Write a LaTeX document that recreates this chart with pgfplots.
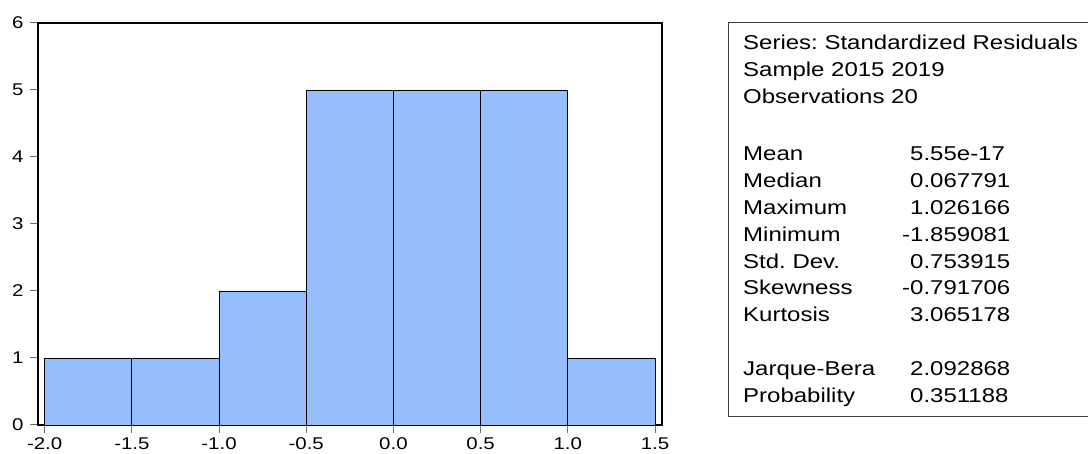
\documentclass[border=0pt]{standalone}
\usepackage{pgfplots}
\pgfplotsset{compat=1.18}
\usepackage{fontspec}
\setmainfont{Liberation Sans}[FakeStretch=1.2]
\frenchspacing
\definecolor{barblue}{RGB}{150,190,255}
\definecolor{tickgray}{RGB}{110,110,110}
\begin{document}
\begin{tikzpicture}[x=1pt,y=1pt]
\useasboundingbox (0,0) rectangle (1088,454);
\begin{axis}[
  at={(38pt,29pt)}, anchor=south west,
  scale only axis,
  width=624pt, height=402pt,
  xmin=-2.038, xmax=1.54,
  ymin=0, ymax=6,
  xtick={-2,-1.5,...,1.5},
  ytick={0,1,2,3,4,5,6},
  tick align=outside,
  major tick length=8pt,
  tick style={tickgray, line width=1pt},
  xtick pos=bottom, ytick pos=left,
  axis line style={black, line width=1.3pt},
  /pgf/number format/assume math mode=true,
  tick label style={font=\fontsize{17}{20}\selectfont, text=black},
  xticklabel={\pgfmathprintnumber[fixed,fixed zerofill,precision=1]{\tick}},
  yticklabel={\pgfmathprintnumber[fixed,precision=0]{\tick}},
  xticklabel style={yshift=-1pt},
  yticklabel style={xshift=-3pt},
]
\addplot[ybar interval, fill=barblue, draw=black, line width=0.8pt]
  coordinates {(-2,1) (-1.5,1) (-1,2) (-0.5,5) (0,5) (0.5,5) (1,1) (1.5,1)};
\end{axis}
\draw[line width=1pt, black!75] (1089,431) -- (728,431) -- (728,37) -- (1089,37);
\begin{scope}[every node/.style={anchor=base west, inner sep=0pt, font=\fontsize{20}{24}\selectfont\frenchspacing}]
\node at (743,404) {Series: Standardized Residuals};
\node at (743,377) {Sample 2015 2019};
\node at (743,350) {Observations 20};
\node at (743,293) {Mean};
\node at (743,266.2) {Median};
\node at (743,239.4) {Maximum};
\node at (743,212.6) {Minimum};
\node at (743,185.8) {Std.\ Dev.};
\node at (743,159) {Skewness};
\node at (743,132.2) {Kurtosis};
\node at (743,78.6) {Jarque-Bera};
\node at (743,51.8) {Probability};
\node at (910,293) {5.55e-17};
\node at (910,266.2) {0.067791};
\node at (910,239.4) {1.026166};
\node at (910,212.6) {\llap{-}1.859081};
\node at (910,185.8) {0.753915};
\node at (910,159) {\llap{-}0.791706};
\node at (910,132.2) {3.065178};
\node at (910,78.6) {2.092868};
\node at (910,51.8) {0.351188};
\end{scope}
\end{tikzpicture}
\end{document}
